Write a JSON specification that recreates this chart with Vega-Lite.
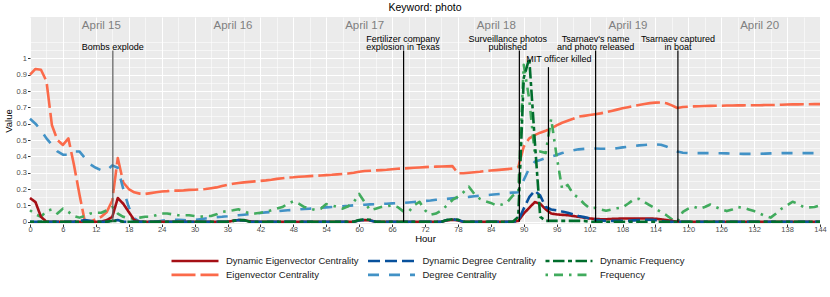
{
"$schema": "https://vega.github.io/schema/vega-lite/v6.json",
"width": 790, "height": 207,
"autosize": {"type": "none"},
"padding": {"left": 30, "top": 17, "right": 10, "bottom": 73},
"title": {"text": "Keyword: photo", "fontSize": 10.5, "fontWeight": "normal", "color": "black", "anchor": "middle", "offset": 4},
"config": {
  "font": "Liberation Sans",
  "view": {"fill": "#EBEBEB", "stroke": null}
},
"data": {"values": [
{"h":0,"e":0.90,"d":0.63,"f":0.07,"de":0.145,"dd":0,"df":0},
{"h":1,"e":0.935,"d":0.60,"f":0.045,"de":0.12,"dd":0,"df":0},
{"h":2,"e":0.93,"d":0.56,"f":0.03,"de":0.03,"dd":0,"df":0},
{"h":3,"e":0.86,"d":0.51,"f":0.065,"de":0,"dd":0,"df":0},
{"h":4,"e":0.59,"d":0.47,"f":0.075,"de":0,"dd":0,"df":0},
{"h":5,"e":0.50,"d":0.43,"f":0.05,"de":0,"dd":0,"df":0},
{"h":6,"e":0.47,"d":0.41,"f":0.08,"de":0,"dd":0,"df":0},
{"h":7,"e":0.51,"d":0.41,"f":0.06,"de":0,"dd":0,"df":0},
{"h":8,"e":0.35,"d":0.43,"f":0.035,"de":0,"dd":0,"df":0},
{"h":9,"e":0.17,"d":0.43,"f":0.025,"de":0,"dd":0.005,"df":0},
{"h":10,"e":0.0,"d":0.39,"f":0.035,"de":0,"dd":0.01,"df":0},
{"h":11,"e":0.0,"d":0.35,"f":0.05,"de":0,"dd":0.005,"df":0},
{"h":12,"e":0.015,"d":0.33,"f":0.055,"de":0,"dd":0,"df":0},
{"h":13,"e":0.03,"d":0.315,"f":0.055,"de":0,"dd":0,"df":0},
{"h":14,"e":0.06,"d":0.315,"f":0.07,"de":0.01,"dd":0,"df":0},
{"h":15,"e":0.13,"d":0.345,"f":0.09,"de":0.03,"dd":0.005,"df":0.005},
{"h":16,"e":0.39,"d":0.33,"f":0.05,"de":0.145,"dd":0.01,"df":0.005},
{"h":17,"e":0.24,"d":0.2,"f":0.03,"de":0.11,"dd":0,"df":0},
{"h":18,"e":0.2,"d":0.09,"f":0.02,"de":0.06,"dd":0,"df":0},
{"h":19,"e":0.18,"d":0.02,"f":0.02,"de":0.01,"dd":0,"df":0},
{"h":20,"e":0.172,"d":0,"f":0.025,"de":0,"dd":0,"df":0},
{"h":21,"e":0.17,"d":0,"f":0.03,"de":0,"dd":0,"df":0},
{"h":22,"e":0.175,"d":0,"f":0.03,"de":0,"dd":0,"df":0},
{"h":23,"e":0.18,"d":0,"f":0.04,"de":0,"dd":0,"df":0},
{"h":24,"e":0.185,"d":0.005,"f":0.05,"de":0,"dd":0,"df":0},
{"h":25,"e":0.187,"d":0.01,"f":0.05,"de":0,"dd":0,"df":0},
{"h":26,"e":0.19,"d":0.012,"f":0.045,"de":0,"dd":0,"df":0},
{"h":27,"e":0.19,"d":0.012,"f":0.04,"de":0,"dd":0,"df":0},
{"h":28,"e":0.192,"d":0.01,"f":0.04,"de":0,"dd":0,"df":0},
{"h":29,"e":0.195,"d":0.008,"f":0.04,"de":0,"dd":0,"df":0},
{"h":30,"e":0.196,"d":0.01,"f":0.035,"de":0,"dd":0,"df":0},
{"h":31,"e":0.198,"d":0.015,"f":0.03,"de":0,"dd":0,"df":0},
{"h":32,"e":0.2,"d":0.02,"f":0.035,"de":0,"dd":0,"df":0},
{"h":33,"e":0.205,"d":0.025,"f":0.035,"de":0,"dd":0,"df":0},
{"h":34,"e":0.21,"d":0.028,"f":0.045,"de":0,"dd":0,"df":0},
{"h":35,"e":0.218,"d":0.03,"f":0.06,"de":0,"dd":0,"df":0},
{"h":36,"e":0.226,"d":0.033,"f":0.065,"de":0,"dd":0,"df":0},
{"h":37,"e":0.232,"d":0.037,"f":0.07,"de":0.005,"dd":0.005,"df":0.005},
{"h":38,"e":0.237,"d":0.04,"f":0.076,"de":0.01,"dd":0.01,"df":0.01},
{"h":39,"e":0.241,"d":0.043,"f":0.065,"de":0.008,"dd":0.008,"df":0.01},
{"h":40,"e":0.244,"d":0.046,"f":0.05,"de":0.003,"dd":0,"df":0},
{"h":41,"e":0.247,"d":0.05,"f":0.05,"de":0,"dd":0,"df":0},
{"h":42,"e":0.25,"d":0.053,"f":0.055,"de":0,"dd":0,"df":0},
{"h":43,"e":0.253,"d":0.057,"f":0.06,"de":0,"dd":0,"df":0},
{"h":44,"e":0.257,"d":0.06,"f":0.07,"de":0,"dd":0,"df":0},
{"h":45,"e":0.262,"d":0.064,"f":0.08,"de":0,"dd":0,"df":0},
{"h":46,"e":0.266,"d":0.067,"f":0.09,"de":0,"dd":0,"df":0},
{"h":47,"e":0.27,"d":0.07,"f":0.11,"de":0,"dd":0,"df":0},
{"h":48,"e":0.272,"d":0.072,"f":0.125,"de":0,"dd":0,"df":0},
{"h":49,"e":0.275,"d":0.075,"f":0.11,"de":0,"dd":0,"df":0},
{"h":50,"e":0.277,"d":0.078,"f":0.09,"de":0,"dd":0,"df":0},
{"h":51,"e":0.279,"d":0.08,"f":0.08,"de":0,"dd":0,"df":0},
{"h":52,"e":0.281,"d":0.083,"f":0.072,"de":0,"dd":0,"df":0},
{"h":53,"e":0.283,"d":0.086,"f":0.08,"de":0,"dd":0,"df":0},
{"h":54,"e":0.285,"d":0.088,"f":0.108,"de":0,"dd":0,"df":0},
{"h":55,"e":0.287,"d":0.09,"f":0.1,"de":0,"dd":0,"df":0},
{"h":56,"e":0.29,"d":0.092,"f":0.09,"de":0,"dd":0,"df":0},
{"h":57,"e":0.292,"d":0.095,"f":0.08,"de":0,"dd":0,"df":0},
{"h":58,"e":0.295,"d":0.097,"f":0.095,"de":0,"dd":0,"df":0},
{"h":59,"e":0.3,"d":0.1,"f":0.12,"de":0,"dd":0,"df":0},
{"h":60,"e":0.306,"d":0.102,"f":0.17,"de":0.008,"dd":0.008,"df":0.01},
{"h":61,"e":0.31,"d":0.104,"f":0.12,"de":0.01,"dd":0.012,"df":0.015},
{"h":62,"e":0.312,"d":0.106,"f":0.07,"de":0.008,"dd":0.008,"df":0.012},
{"h":63,"e":0.314,"d":0.107,"f":0.08,"de":0,"dd":0,"df":0},
{"h":64,"e":0.316,"d":0.109,"f":0.09,"de":0,"dd":0,"df":0},
{"h":65,"e":0.318,"d":0.11,"f":0.095,"de":0,"dd":0,"df":0},
{"h":66,"e":0.321,"d":0.112,"f":0.1,"de":0,"dd":0,"df":0},
{"h":67,"e":0.324,"d":0.113,"f":0.09,"de":0,"dd":0,"df":0},
{"h":68,"e":0.326,"d":0.115,"f":0.065,"de":0,"dd":0,"df":0},
{"h":69,"e":0.328,"d":0.118,"f":0.06,"de":0,"dd":0,"df":0},
{"h":70,"e":0.33,"d":0.121,"f":0.1,"de":0,"dd":0,"df":0},
{"h":71,"e":0.332,"d":0.124,"f":0.122,"de":0,"dd":0,"df":0},
{"h":72,"e":0.334,"d":0.127,"f":0.07,"de":0,"dd":0,"df":0},
{"h":73,"e":0.336,"d":0.13,"f":0.042,"de":0,"dd":0,"df":0},
{"h":74,"e":0.337,"d":0.134,"f":0.05,"de":0,"dd":0,"df":0},
{"h":75,"e":0.338,"d":0.137,"f":0.07,"de":0,"dd":0,"df":0},
{"h":76,"e":0.339,"d":0.14,"f":0.1,"de":0.008,"dd":0.01,"df":0.01},
{"h":77,"e":0.34,"d":0.143,"f":0.133,"de":0.012,"dd":0.015,"df":0.015},
{"h":78,"e":0.297,"d":0.146,"f":0.153,"de":0.008,"dd":0.01,"df":0.012},
{"h":79,"e":0.297,"d":0.149,"f":0.18,"de":0,"dd":0,"df":0},
{"h":80,"e":0.3,"d":0.152,"f":0.214,"de":0,"dd":0,"df":0},
{"h":81,"e":0.303,"d":0.156,"f":0.17,"de":0,"dd":0,"df":0},
{"h":82,"e":0.306,"d":0.159,"f":0.14,"de":0,"dd":0,"df":0},
{"h":83,"e":0.31,"d":0.162,"f":0.125,"de":0,"dd":0,"df":0},
{"h":84,"e":0.313,"d":0.165,"f":0.115,"de":0,"dd":0,"df":0},
{"h":85,"e":0.316,"d":0.168,"f":0.1,"de":0,"dd":0,"df":0},
{"h":86,"e":0.319,"d":0.171,"f":0.105,"de":0,"dd":0,"df":0},
{"h":87,"e":0.322,"d":0.175,"f":0.12,"de":0,"dd":0,"df":0},
{"h":88,"e":0.325,"d":0.178,"f":0.16,"de":0,"dd":0,"df":0},
{"h":89,"e":0.335,"d":0.18,"f":0.18,"de":0.005,"dd":0.005,"df":0.03},
{"h":90,"e":0.46,"d":0.255,"f":0.96,"de":0.05,"dd":0.08,"df":0.88},
{"h":91,"e":0.51,"d":0.327,"f":0.75,"de":0.085,"dd":0.15,"df":1.0},
{"h":92,"e":0.53,"d":0.367,"f":0.42,"de":0.12,"dd":0.19,"df":0.5},
{"h":93,"e":0.545,"d":0.378,"f":0.43,"de":0.11,"dd":0.16,"df":0.03},
{"h":94,"e":0.557,"d":0.39,"f":0.42,"de":0.076,"dd":0.09,"df":0.005},
{"h":95,"e":0.57,"d":0.398,"f":0.63,"de":0.05,"dd":0.075,"df":0.005},
{"h":96,"e":0.59,"d":0.408,"f":0.4,"de":0.045,"dd":0.07,"df":0.005},
{"h":97,"e":0.606,"d":0.42,"f":0.2,"de":0.042,"dd":0.062,"df":0.005},
{"h":98,"e":0.618,"d":0.43,"f":0.225,"de":0.04,"dd":0.055,"df":0.005},
{"h":99,"e":0.63,"d":0.437,"f":0.17,"de":0.035,"dd":0.045,"df":0.005},
{"h":100,"e":0.643,"d":0.443,"f":0.145,"de":0.03,"dd":0.035,"df":0.005},
{"h":101,"e":0.648,"d":0.446,"f":0.11,"de":0.025,"dd":0.028,"df":0.005},
{"h":102,"e":0.653,"d":0.448,"f":0.082,"de":0.02,"dd":0.02,"df":0},
{"h":103,"e":0.658,"d":0.448,"f":0.085,"de":0.017,"dd":0.012,"df":0},
{"h":104,"e":0.663,"d":0.447,"f":0.075,"de":0.015,"dd":0.008,"df":0},
{"h":105,"e":0.67,"d":0.446,"f":0.067,"de":0.015,"dd":0.005,"df":0},
{"h":106,"e":0.678,"d":0.447,"f":0.075,"de":0.017,"dd":0.005,"df":0},
{"h":107,"e":0.686,"d":0.45,"f":0.082,"de":0.018,"dd":0.005,"df":0},
{"h":108,"e":0.694,"d":0.455,"f":0.088,"de":0.02,"dd":0.005,"df":0},
{"h":109,"e":0.701,"d":0.459,"f":0.11,"de":0.02,"dd":0.005,"df":0},
{"h":110,"e":0.708,"d":0.463,"f":0.135,"de":0.02,"dd":0.008,"df":0},
{"h":111,"e":0.714,"d":0.467,"f":0.14,"de":0.02,"dd":0.01,"df":0},
{"h":112,"e":0.72,"d":0.47,"f":0.12,"de":0.02,"dd":0.012,"df":0},
{"h":113,"e":0.726,"d":0.473,"f":0.1,"de":0.02,"dd":0.012,"df":0},
{"h":114,"e":0.729,"d":0.473,"f":0.08,"de":0.018,"dd":0.01,"df":0},
{"h":115,"e":0.73,"d":0.471,"f":0.06,"de":0.015,"dd":0.005,"df":0},
{"h":116,"e":0.725,"d":0.46,"f":0.04,"de":0.01,"dd":0,"df":0},
{"h":117,"e":0.712,"d":0.445,"f":0.015,"de":0.005,"dd":0,"df":0},
{"h":118,"e":0.696,"d":0.43,"f":0.0,"de":0,"dd":0,"df":0},
{"h":119,"e":0.702,"d":0.422,"f":0.06,"de":0,"dd":0,"df":0},
{"h":120,"e":0.704,"d":0.42,"f":0.08,"de":0,"dd":0,"df":0},
{"h":121,"e":0.706,"d":0.42,"f":0.092,"de":0,"dd":0,"df":0},
{"h":122,"e":0.707,"d":0.42,"f":0.08,"de":0,"dd":0,"df":0},
{"h":123,"e":0.708,"d":0.42,"f":0.09,"de":0,"dd":0,"df":0},
{"h":124,"e":0.709,"d":0.42,"f":0.105,"de":0,"dd":0,"df":0},
{"h":125,"e":0.71,"d":0.419,"f":0.09,"de":0,"dd":0,"df":0},
{"h":126,"e":0.71,"d":0.419,"f":0.075,"de":0,"dd":0,"df":0},
{"h":127,"e":0.711,"d":0.418,"f":0.065,"de":0,"dd":0,"df":0},
{"h":128,"e":0.711,"d":0.417,"f":0.075,"de":0,"dd":0,"df":0},
{"h":129,"e":0.712,"d":0.416,"f":0.09,"de":0,"dd":0,"df":0},
{"h":130,"e":0.712,"d":0.415,"f":0.085,"de":0,"dd":0,"df":0},
{"h":131,"e":0.713,"d":0.415,"f":0.075,"de":0,"dd":0,"df":0},
{"h":132,"e":0.713,"d":0.415,"f":0.065,"de":0,"dd":0,"df":0},
{"h":133,"e":0.713,"d":0.416,"f":0.05,"de":0,"dd":0,"df":0},
{"h":134,"e":0.714,"d":0.417,"f":0.035,"de":0,"dd":0,"df":0},
{"h":135,"e":0.714,"d":0.418,"f":0.025,"de":0,"dd":0,"df":0},
{"h":136,"e":0.715,"d":0.419,"f":0.05,"de":0,"dd":0,"df":0},
{"h":137,"e":0.716,"d":0.42,"f":0.08,"de":0,"dd":0,"df":0},
{"h":138,"e":0.717,"d":0.42,"f":0.1,"de":0,"dd":0,"df":0},
{"h":139,"e":0.718,"d":0.42,"f":0.122,"de":0,"dd":0,"df":0},
{"h":140,"e":0.718,"d":0.42,"f":0.11,"de":0,"dd":0,"df":0},
{"h":141,"e":0.719,"d":0.42,"f":0.09,"de":0,"dd":0,"df":0},
{"h":142,"e":0.719,"d":0.42,"f":0.088,"de":0,"dd":0,"df":0},
{"h":143,"e":0.72,"d":0.42,"f":0.09,"de":0,"dd":0,"df":0},
{"h":144,"e":0.72,"d":0.42,"f":0.1,"de":0,"dd":0,"df":0}
]},
"encoding": {
  "x": {"field": "h", "type": "quantitative",
    "scale": {"domain": [0, 144], "nice": false, "zero": false},
    "axis": {
      "values": [0,3,6,9,12,15,18,21,24,27,30,33,36,39,42,45,48,51,54,57,60,63,66,69,72,75,78,81,84,87,90,93,96,99,102,105,108,111,114,117,120,123,126,129,132,135,138,141,144],
      "labelExpr": "datum.value % 6 === 0 ? datum.label : ''",
      "tickOpacity": {"condition": {"test": "datum.value % 6 === 0", "value": 1}, "value": 0},
      "gridWidth": {"condition": {"test": "datum.value % 6 === 0", "value": 1.1}, "value": 0.55},
      "gridColor": "#FFFFFF", "grid": true, "domain": false,
      "tickColor": "#333333", "tickSize": 2.5, "tickWidth": 1,
      "labelFontSize": 7.5, "labelColor": "#4D4D4D", "labelPadding": -1,
      "labelFlush": false, "labelOverlap": false,
      "title": "Hour", "titleFontSize": 9.5, "titleFontWeight": "normal", "titleColor": "#000000", "titlePadding": 0.5
    }
  },
  "y": {"field": "v", "type": "quantitative",
    "scale": {"domain": [-0.014, 1.253], "nice": false, "zero": false},
    "axis": {
      "values": [0,0.05,0.1,0.15,0.2,0.25,0.3,0.35,0.4,0.45,0.5,0.55,0.6,0.65,0.7,0.75,0.8,0.85,0.9,0.95,1,1.05,1.1],
      "format": "~g",
      "labelExpr": "round(datum.value*20) % 2 === 0 && datum.value < 1.01 ? datum.label : ''",
      "tickOpacity": {"condition": {"test": "round(datum.value*20) % 2 === 0 && datum.value < 1.01", "value": 1}, "value": 0},
      "gridWidth": {"condition": {"test": "round(datum.value*20) % 2 === 0 && datum.value < 1.01", "value": 1.1}, "value": 0.55},
      "gridColor": "#FFFFFF", "grid": true, "domain": false,
      "tickColor": "#333333", "tickSize": 2.5, "tickWidth": 1,
      "labelFontSize": 7.5, "labelColor": "#4D4D4D", "labelPadding": 1,
      "labelFlush": false, "labelOverlap": false,
      "title": "Value", "titleFontSize": 9.5, "titleFontWeight": "normal", "titleColor": "#000000", "titlePadding": 3
    }
  }
},
"layer": [
  {
    "data": {"values": [{"h":24},{"h":48},{"h":72},{"h":96},{"h":120},{"h":144}]},
    "mark": {"type": "rule", "color": "#D2D2D2", "strokeWidth": 1.2},
    "encoding": {"y": {"datum": -0.014}, "y2": {"datum": 1.253}}
  },
  {
    "transform": [{"fold": ["e", "d", "f", "de", "dd", "df"], "as": ["k", "v"]}],
    "mark": {"type": "line", "strokeWidth": 2.6, "strokeCap": "butt", "strokeJoin": "round"},
    "encoding": {
      "color": {"field": "k", "type": "nominal",
        "scale": {"domain": ["de", "e", "dd", "d", "df", "f"], "range": ["#A50F15", "#FB6A4A", "#08519C", "#4292C6", "#006D2C", "#41AB5D"]},
        "legend": {"orient": "none", "legendX": 140, "legendY": 235.4, "columns": 3, "title": null,
          "labelExpr": "datum.label == 'de' ? 'Dynamic Eigenvector Centrality' : datum.label == 'dd' ? 'Dynamic Degree Centrality' : datum.label == 'df' ? 'Dynamic Frequency' : datum.label == 'e' ? 'Eigenvector Centrality' : datum.label == 'd' ? 'Degree Centrality' : 'Frequency'",
          "symbolType": "M-1,0H5.714", "symbolSize": 196, "symbolStrokeWidth": 2.6,
          "labelOffset": 39, "labelFontSize": 9.5, "labelColor": "#1A1A1A",
          "columnPadding": 3.5, "rowPadding": 0, "padding": 0}
      },
      "strokeDash": {"field": "k", "type": "nominal",
        "scale": {"domain": ["de", "e", "dd", "d", "df", "f"], "range": [[1, 0], [24, 5], [12, 5], [11, 10], [4, 3.5, 11.5, 3.5], [2.5, 6, 9, 6]]},
        "legend": {"orient": "none", "legendX": 140, "legendY": 235.4, "columns": 3, "title": null,
          "labelExpr": "datum.label == 'de' ? 'Dynamic Eigenvector Centrality' : datum.label == 'dd' ? 'Dynamic Degree Centrality' : datum.label == 'df' ? 'Dynamic Frequency' : datum.label == 'e' ? 'Eigenvector Centrality' : datum.label == 'd' ? 'Degree Centrality' : 'Frequency'",
          "symbolType": "M-1,0H5.714", "symbolSize": 196, "symbolStrokeWidth": 2.6,
          "labelOffset": 39, "labelFontSize": 9.5, "labelColor": "#1A1A1A",
          "columnPadding": 3.5, "rowPadding": 0, "padding": 0}
      }
    }
  },
  {
    "data": {"values": [{"h":15.1,"v":1.048},{"h":68.1,"v":1.048},{"h":89.2,"v":1.048},{"h":94.5,"v":0.946},{"h":103.1,"v":1.048},{"h":118.1,"v":1.048}]},
    "mark": {"type": "rule", "strokeWidth": 1.2},
    "encoding": {
      "y2": {"datum": 0},
      "color": {"condition": {"test": "datum.h < 20", "value": "#5C5C5C"}, "value": "#000000"}
    }
  },
  {
    "data": {"values": [
      {"h":15.1,"v":1.068,"t":"Bombs explode"},
      {"h":68.0,"v":1.120,"t":"Fertilizer company"},
      {"h":68.0,"v":1.068,"t":"explosion in Texas"},
      {"h":87.1,"v":1.120,"t":"Surveillance photos"},
      {"h":87.1,"v":1.068,"t":"published"},
      {"h":96.4,"v":0.995,"t":"MIT officer killed"},
      {"h":103.1,"v":1.120,"t":"Tsarnaev's name"},
      {"h":103.1,"v":1.068,"t":"and photo released"},
      {"h":118.1,"v":1.120,"t":"Tsarnaev captured"},
      {"h":118.1,"v":1.068,"t":"in boat"}
    ]},
    "mark": {"type": "text", "fontSize": 9, "align": "center", "baseline": "middle", "color": "#000000"},
    "encoding": {"text": {"field": "t"}}
  },
  {
    "data": {"values": [
      {"h":13,"v":1.195,"t":"April 15"},{"h":37,"v":1.195,"t":"April 16"},{"h":61,"v":1.195,"t":"April 17"},
      {"h":85,"v":1.195,"t":"April 18"},{"h":109,"v":1.195,"t":"April 19"},{"h":133,"v":1.195,"t":"April 20"}
    ]},
    "mark": {"type": "text", "fontSize": 11.5, "align": "center", "baseline": "middle", "color": "#7F7F7F"},
    "encoding": {"text": {"field": "t"}}
  }
]
}
